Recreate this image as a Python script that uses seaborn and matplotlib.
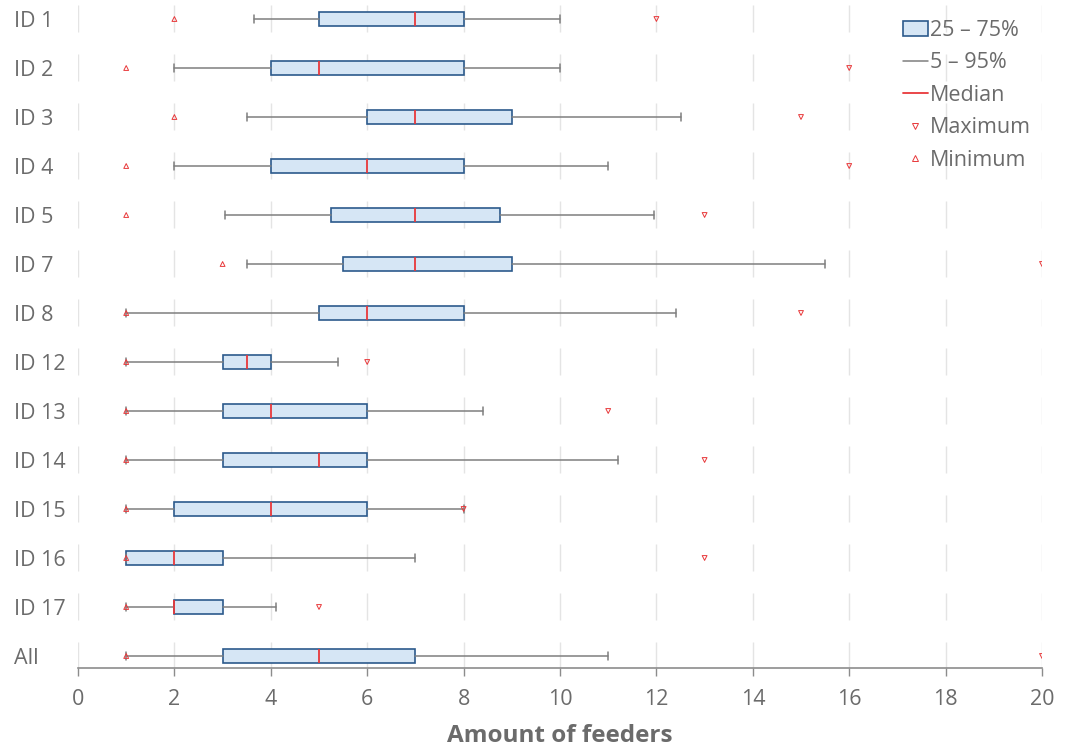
import matplotlib
matplotlib.use("Agg")
import matplotlib.pyplot as plt
from matplotlib.patches import Patch
from matplotlib.lines import Line2D
import seaborn as sns
import pandas as pd

# Feeder counts per individual: min, 5th pct, Q1, median, Q3, 95th pct, max
ids = ["ID 1", "ID 2", "ID 3", "ID 4", "ID 5", "ID 7", "ID 8", "ID 12",
       "ID 13", "ID 14", "ID 15", "ID 16", "ID 17", "All"]
minimum = [2, 1, 2, 1, 1, 3, 1, 1, 1, 1, 1, 1, 1, 1]
p05 = [3.65, 2, 3.5, 2, 3.05, 3.5, 1, 1, 1, 1, 1, 1, 1, 1]
q1 = [5, 4, 6, 4, 5.25, 5.5, 5, 3, 3, 3, 2, 1, 2, 3]
median = [7, 5, 7, 6, 7, 7, 6, 3.5, 4, 5, 4, 2, 2, 5]
q3 = [8, 8, 9, 8, 8.75, 9, 8, 4, 6, 6, 6, 3, 3, 7]
p95 = [10, 10, 12.5, 11, 11.95, 15.5, 12.4, 5.4, 8.4, 11.2, 8, 7, 4.1, 11]
maximum = [12, 16, 15, 16, 13, 20, 15, 6, 11, 13, 8, 13, 5, 20]

BOX_FACE = "#d6e6f5"
BOX_EDGE = "#2c5a8c"
WHISK = "#7f7f7f"
RED = "#e8383a"
TEXT = "#6b6b6b"
GRID = "#e4e4e4"

sns.set_theme(style="white")
plt.rcParams["font.family"] = ["Open Sans", "DejaVu Sans"]

fig = plt.figure(figsize=(10.75, 7.49), dpi=100)
ax = fig.add_axes([78 / 1075, 1 - 668 / 749, (1042 - 78) / 1075, 668 / 749])

pos = list(range(len(ids)))

# Per-row vertical grid segments
for p in pos:
    ax.vlines(range(0, 21, 2), p - 0.29, min(p + 0.27, 13.245), colors=GRID,
              linewidth=1, zorder=0)

stats = [dict(label=ids[i], whislo=p05[i], q1=q1[i], med=median[i],
              q3=q3[i], whishi=p95[i], fliers=[]) for i in pos]
ax.bxp(stats, positions=pos, widths=0.27, orientation="horizontal",
       patch_artist=True, showfliers=False, capwidths=0.17,
       boxprops=dict(facecolor=BOX_FACE, edgecolor=BOX_EDGE, linewidth=1.2),
       medianprops=dict(color=RED, linewidth=1.3),
       whiskerprops=dict(color=WHISK, linewidth=1.1),
       capprops=dict(color=WHISK, linewidth=1.1), manage_ticks=False,
       zorder=2)

df = pd.DataFrame({"pos": pos, "minimum": minimum, "maximum": maximum})
sns.scatterplot(data=df, x="minimum", y="pos", marker="^", s=12,
                facecolor="none", edgecolor=RED, linewidth=0.7, ax=ax,
                zorder=3, legend=False)
sns.scatterplot(data=df, x="maximum", y="pos", marker="v", s=12,
                facecolor="none", edgecolor=RED, linewidth=0.7, ax=ax,
                zorder=3, legend=False)

ax.set_xlim(0, 20)
ax.set_ylim(13.245, -0.388)
ax.set_xticks(range(0, 21, 2))
ax.set_yticks(pos)
ax.set_yticklabels(ids)
for lab in ax.get_yticklabels():
    lab.set_ha("left")
ax.tick_params(axis="y", length=0, pad=46, labelsize=15.5, labelcolor=TEXT)
ax.tick_params(axis="x", length=6, width=1, color="#8c8c8c", direction="out",
               labelsize=15.5, labelcolor=TEXT, pad=9, bottom=True)
ax.set_xlabel("Amount of feeders", fontsize=17.5, fontweight="bold",
              color=TEXT, labelpad=10)
ax.set_ylabel("")

for side in ["left", "right", "top"]:
    ax.spines[side].set_visible(False)
ax.spines["bottom"].set_color("#8c8c8c")
ax.spines["bottom"].set_linewidth(1.2)

handles = [
    Patch(facecolor=BOX_FACE, edgecolor=BOX_EDGE, linewidth=1.2),
    Line2D([], [], color=WHISK, linewidth=1.1),
    Line2D([], [], color=RED, linewidth=1.3),
    Line2D([], [], linestyle="none", marker="v", markersize=4,
           markerfacecolor="none", markeredgecolor=RED, markeredgewidth=0.7),
    Line2D([], [], linestyle="none", marker="^", markersize=4,
           markerfacecolor="none", markeredgecolor=RED, markeredgewidth=0.7),
]
labels = ["25 – 75%", "5 – 95%", "Median", "Maximum", "Minimum"]
leg = ax.legend(handles, labels, loc="upper left",
                bbox_to_anchor=(903 / 1075, 1 - 20 / 749),
                bbox_transform=fig.transFigure,
                frameon=False, fontsize=15.5, handlelength=1.15,
                handletextpad=0.1, labelspacing=0.53, borderaxespad=0,
                borderpad=0)
for t in leg.get_texts():
    t.set_color(TEXT)

fig.savefig("out.png", dpi=100)
